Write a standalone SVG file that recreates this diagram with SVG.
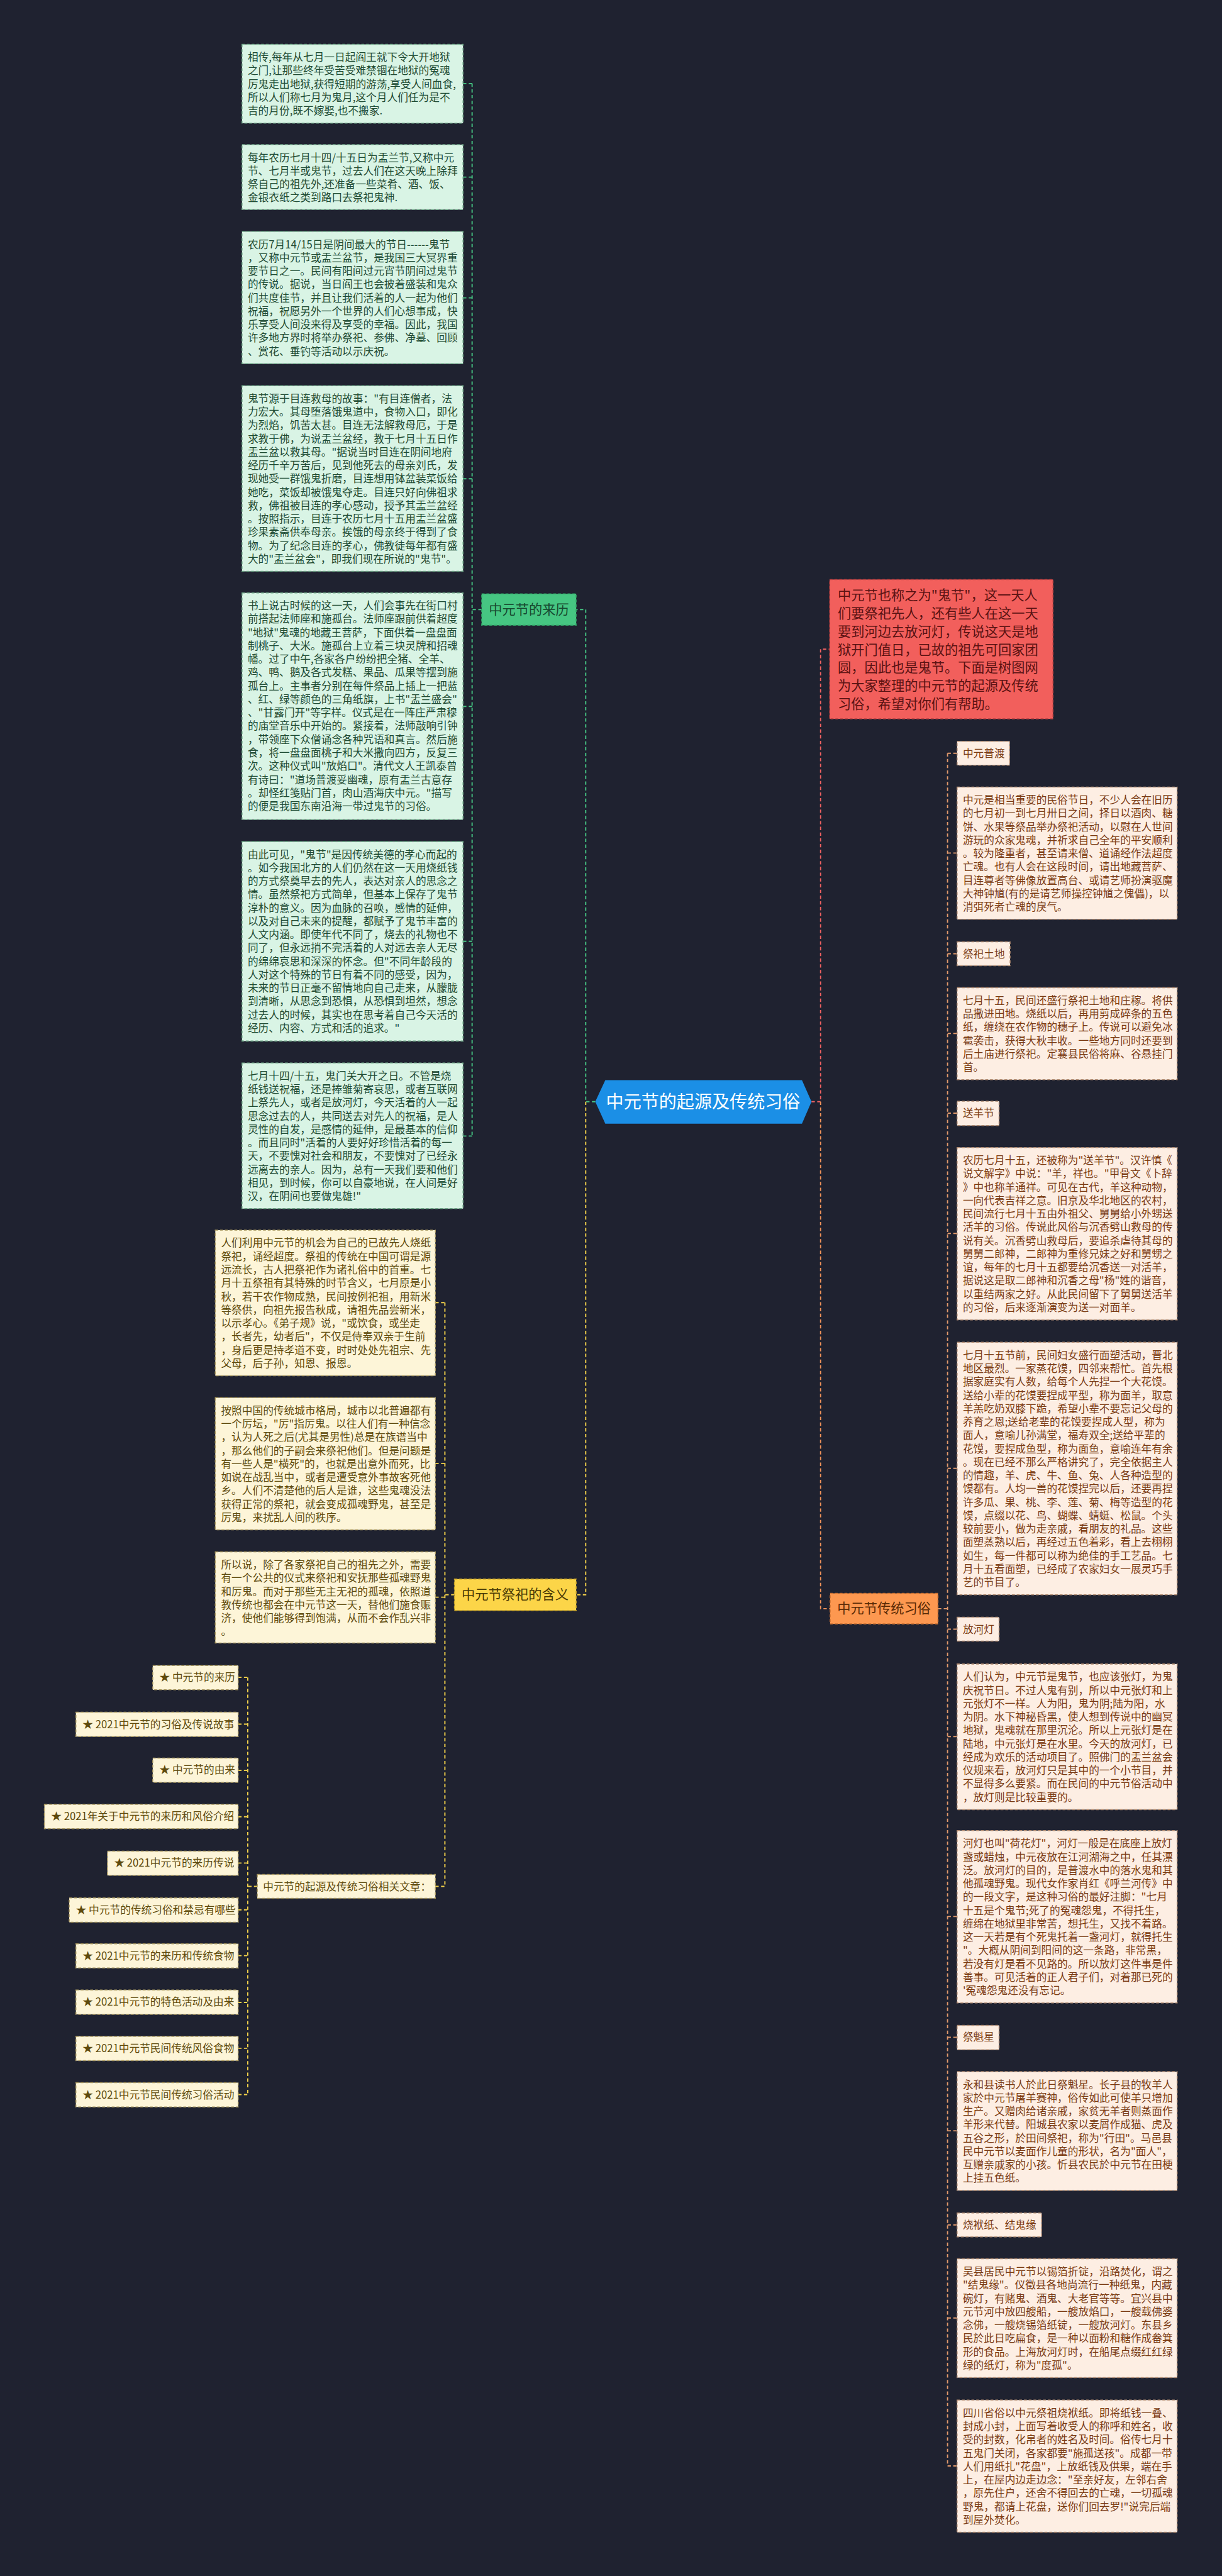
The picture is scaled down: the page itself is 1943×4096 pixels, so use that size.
<svg xmlns="http://www.w3.org/2000/svg" width="1943" height="4096" viewBox="0 0 1943 4096">
<style>
text{font-family:"Noto Sans CJK SC","Noto Sans",sans-serif}
.g{fill:#d9f4e5;stroke:#6fa888;stroke-width:2;stroke-dasharray:6 4}
.gt{font-size:22px;fill:#1d4a32}
.y{fill:#fdf5d8;stroke:#a8975e;stroke-width:2;stroke-dasharray:6 4}
.yt{font-size:22px;fill:#5e4a0c}
.o{fill:#fdeee3;stroke:#b08a70;stroke-width:2;stroke-dasharray:6 4}
.ot{font-size:22px;fill:#7a3a12}
.c{fill:none;stroke-width:2.5;stroke-dasharray:7 5}
.cg{stroke:#45c483}.cy{stroke:#f2d14a}.cr{stroke:#f06262}.co{stroke:#f0935a}.cp{stroke:#e29a6c}
</style>
<rect width="1943" height="4096" fill="#1f2230"/>
<g transform="scale(0.759)">
<g id="connectors">
<path class="c cg" d="M1247,2308H1227V1277H1207"/>
<path class="c cy" d="M1227,2308V3341H1207"/>
<path class="c cr" d="M1700,2308H1719V1360H1738"/>
<path class="c co" d="M1719,2308V3370H1739"/>
<path class="c cg" d="M1009,1277H989M989,175V2380M970,175H989M970,371H989M970,624H989M970,1003H989M970,1480H989M970,1972H989M970,2380H989"/>
<path class="c cy" d="M952,3341H932M932,2729V3952M912,2729H932M912,3066H932M912,3346H932M912,3952H932"/>
<path class="c cy" d="M539,3952H519M519,3514V4388M499,3514H519M499,3612H519M499,3709H519M499,3806H519M499,3903H519M499,4001H519M499,4097H519M499,4195H519M499,4291H519M499,4388H519"/>
<path class="c cp" d="M1965,3370H1985M1985,1578V5166M1985,1578H2005M1985,1787H2005M1985,1998H2005M1985,2165H2005M1985,2332H2005M1985,2584H2005M1985,3076H2005M1985,3413H2005M1985,3638H2005M1985,4015H2005M1985,4268H2005M1985,4464H2005M1985,4661H2005M1985,4856H2005M1985,5166H2005"/>
</g>

<g id="center">
<polygon points="1247,2308 1268,2263 1680,2263 1700,2308 1680,2354 1268,2354" fill="#1b8fe6"/>
<text x="1473" y="2321" font-size="37" fill="#ffffff" text-anchor="middle">中元节的起源及传统习俗</text>
</g>

<g id="node-laili">
<rect x="1009" y="1244" width="198" height="66" fill="#46c682" stroke="#2f9e63" stroke-width="2" stroke-dasharray="6 4"/>
<text x="1108" y="1287" font-size="28" fill="#174a30" text-anchor="middle">中元节的来历</text>
</g>

<g id="g1"><rect class="g" x="507" y="93" width="463" height="165"/>
<text class="gt" x="519" y="128"><tspan x="519">相传,每年从七月一日起阎王就下令大开地狱</tspan><tspan x="519" dy="28">之门,让那些终年受苦受难禁锢在地狱的冤魂</tspan><tspan x="519" dy="28">厉鬼走出地狱,获得短期的游荡,享受人间血食,</tspan><tspan x="519" dy="28">所以人们称七月为鬼月,这个月人们任为是不</tspan><tspan x="519" dy="28">吉的月份,既不嫁娶,也不搬家.</tspan></text></g>

<g id="g2"><rect class="g" x="507" y="303" width="463" height="136"/>
<text class="gt" x="519" y="338"><tspan x="519">每年农历七月十四/十五日为盂兰节,又称中元</tspan><tspan x="519" dy="28">节、七月半或鬼节，过去人们在这天晚上除拜</tspan><tspan x="519" dy="28">祭自己的祖先外,还准备一些菜肴、酒、饭、</tspan><tspan x="519" dy="28">金银衣纸之类到路口去祭祀鬼神.</tspan></text></g>

<g id="g3"><rect class="g" x="507" y="485" width="463" height="277"/>
<text class="gt" x="519" y="520"><tspan x="519">农历7月14/15日是阴间最大的节日------鬼节</tspan><tspan x="519" dy="28">，又称中元节或盂兰盆节，是我国三大冥界重</tspan><tspan x="519" dy="28">要节日之一。民间有阳间过元宵节阴间过鬼节</tspan><tspan x="519" dy="28">的传说。据说，当日阎王也会披着盛装和鬼众</tspan><tspan x="519" dy="28">们共度佳节，并且让我们活着的人一起为他们</tspan><tspan x="519" dy="28">祝福，祝愿另外一个世界的人们心想事成，快</tspan><tspan x="519" dy="28">乐享受人间没来得及享受的幸福。因此，我国</tspan><tspan x="519" dy="28">许多地方界时将举办祭祀、参佛、净墓、回顾</tspan><tspan x="519" dy="28">、赏花、垂钓等活动以示庆祝。</tspan></text></g>

<g id="g4"><rect class="g" x="507" y="808" width="463" height="389"/>
<text class="gt" x="519" y="843"><tspan x="519">鬼节源于目连救母的故事："有目连僧者，法</tspan><tspan x="519" dy="28">力宏大。其母堕落饿鬼道中，食物入口，即化</tspan><tspan x="519" dy="28">为烈焰，饥苦太甚。目连无法解救母厄，于是</tspan><tspan x="519" dy="28">求教于佛，为说盂兰盆经，教于七月十五日作</tspan><tspan x="519" dy="28">盂兰盆以救其母。"据说当时目连在阴间地府</tspan><tspan x="519" dy="28">经历千辛万苦后，见到他死去的母亲刘氏，发</tspan><tspan x="519" dy="28">现她受一群饿鬼折磨，目连想用钵盆装菜饭给</tspan><tspan x="519" dy="28">她吃，菜饭却被饿鬼夺走。目连只好向佛祖求</tspan><tspan x="519" dy="28">救，佛祖被目连的孝心感动，授予其盂兰盆经</tspan><tspan x="519" dy="28">。按照指示，目连于农历七月十五用盂兰盆盛</tspan><tspan x="519" dy="28">珍果素斋供奉母亲。挨饿的母亲终于得到了食</tspan><tspan x="519" dy="28">物。为了纪念目连的孝心，佛教徒每年都有盛</tspan><tspan x="519" dy="28">大的"盂兰盆会"，即我们现在所说的"鬼节"。</tspan></text></g>

<g id="g5"><rect class="g" x="507" y="1242" width="463" height="475"/>
<text class="gt" x="519" y="1277"><tspan x="519">书上说古时候的这一天，人们会事先在街口村</tspan><tspan x="519" dy="28">前搭起法师座和施孤台。法师座跟前供着超度</tspan><tspan x="519" dy="28">"地狱"鬼魂的地藏王菩萨，下面供着一盘盘面</tspan><tspan x="519" dy="28">制桃子、大米。施孤台上立着三块灵牌和招魂</tspan><tspan x="519" dy="28">幡。过了中午,各家各户纷纷把全猪、全羊、</tspan><tspan x="519" dy="28">鸡、鸭、鹅及各式发糕、果品、瓜果等摆到施</tspan><tspan x="519" dy="28">孤台上。主事者分别在每件祭品上插上一把蓝</tspan><tspan x="519" dy="28">、红、绿等颜色的三角纸旗，上书"盂兰盛会"</tspan><tspan x="519" dy="28">、"甘露门开"等字样。仪式是在一阵庄严肃穆</tspan><tspan x="519" dy="28">的庙堂音乐中开始的。紧接着，法师敲响引钟</tspan><tspan x="519" dy="28">，带领座下众僧诵念各种咒语和真言。然后施</tspan><tspan x="519" dy="28">食，将一盘盘面桃子和大米撒向四方，反复三</tspan><tspan x="519" dy="28">次。这种仪式叫"放焰口"。清代文人王凯泰曾</tspan><tspan x="519" dy="28">有诗曰："道场普渡妥幽魂，原有盂兰古意存</tspan><tspan x="519" dy="28">。却怪红笺贴门首，肉山酒海庆中元。"描写</tspan><tspan x="519" dy="28">的便是我国东南沿海一带过鬼节的习俗。</tspan></text></g>

<g id="g6"><rect class="g" x="507" y="1763" width="463" height="418"/>
<text class="gt" x="519" y="1798"><tspan x="519">由此可见，"鬼节"是因传统美德的孝心而起的</tspan><tspan x="519" dy="28">。如今我国北方的人们仍然在这一天用烧纸钱</tspan><tspan x="519" dy="28">的方式祭奠早去的先人，表达对亲人的思念之</tspan><tspan x="519" dy="28">情。虽然祭祀方式简单，但基本上保存了鬼节</tspan><tspan x="519" dy="28">淳朴的意义。因为血脉的召唤，感情的延伸，</tspan><tspan x="519" dy="28">以及对自己未来的提醒，都赋予了鬼节丰富的</tspan><tspan x="519" dy="28">人文内涵。即使年代不同了，烧去的礼物也不</tspan><tspan x="519" dy="28">同了，但永远捎不完活着的人对远去亲人无尽</tspan><tspan x="519" dy="28">的绵绵哀思和深深的怀念。但"不同年龄段的</tspan><tspan x="519" dy="28">人对这个特殊的节日有着不同的感受，因为，</tspan><tspan x="519" dy="28">未来的节日正毫不留情地向自己走来，从朦胧</tspan><tspan x="519" dy="28">到清晰，从思念到恐惧，从恐惧到坦然，想念</tspan><tspan x="519" dy="28">过去人的时候，其实也在思考着自己今天活的</tspan><tspan x="519" dy="28">经历、内容、方式和活的追求。"</tspan></text></g>

<g id="g7"><rect class="g" x="507" y="2227" width="463" height="305"/>
<text class="gt" x="519" y="2262"><tspan x="519">七月十四/十五，鬼门关大开之日。不管是烧</tspan><tspan x="519" dy="28">纸钱送祝福，还是捧雏菊寄哀思，或者互联网</tspan><tspan x="519" dy="28">上祭先人，或者是放河灯，今天活着的人一起</tspan><tspan x="519" dy="28">思念过去的人，共同送去对先人的祝福，是人</tspan><tspan x="519" dy="28">灵性的自发，是感情的延伸，是最基本的信仰</tspan><tspan x="519" dy="28">。而且同时"活着的人要好好珍惜活着的每一</tspan><tspan x="519" dy="28">天，不要愧对社会和朋友，不要愧对了已经永</tspan><tspan x="519" dy="28">远离去的亲人。因为，总有一天我们要和他们</tspan><tspan x="519" dy="28">相见，到时候，你可以自豪地说，在人间是好</tspan><tspan x="519" dy="28">汉，在阴间也要做鬼雄!"</tspan></text></g>

<g id="node-hanyi">
<rect x="952" y="3308" width="255" height="66" fill="#fcd548" stroke="#c9a52a" stroke-width="2" stroke-dasharray="6 4"/>
<text x="1079" y="3351" font-size="28" fill="#4a3a05" text-anchor="middle">中元节祭祀的含义</text>
</g>

<g id="yA"><rect class="y" x="451" y="2577" width="461" height="305"/>
<text class="yt" x="463" y="2612"><tspan x="463">人们利用中元节的机会为自己的已故先人烧纸</tspan><tspan x="463" dy="28">祭祀，诵经超度。祭祖的传统在中国可谓是源</tspan><tspan x="463" dy="28">远流长，古人把祭祀作为诸礼俗中的首重。七</tspan><tspan x="463" dy="28">月十五祭祖有其特殊的时节含义，七月原是小</tspan><tspan x="463" dy="28">秋，若干农作物成熟，民间按例祀祖，用新米</tspan><tspan x="463" dy="28">等祭供，向祖先报告秋成，请祖先品尝新米，</tspan><tspan x="463" dy="28">以示孝心。《弟子规》说，"或饮食，或坐走</tspan><tspan x="463" dy="28">，长者先，幼者后"，不仅是侍奉双亲于生前</tspan><tspan x="463" dy="28">，身后更是持孝道不变，时时处处先祖宗、先</tspan><tspan x="463" dy="28">父母，后子孙，知恩、报恩。</tspan></text></g>

<g id="yB"><rect class="y" x="451" y="2928" width="461" height="277"/>
<text class="yt" x="463" y="2963"><tspan x="463">按照中国的传统城市格局，城市以北普遍都有</tspan><tspan x="463" dy="28">一个厉坛，"厉"指厉鬼。以往人们有一种信念</tspan><tspan x="463" dy="28">，认为人死之后(尤其是男性)总是在族谱当中</tspan><tspan x="463" dy="28">，那么他们的子嗣会来祭祀他们。但是问题是</tspan><tspan x="463" dy="28">有一些人是"横死"的，也就是出意外而死，比</tspan><tspan x="463" dy="28">如说在战乱当中，或者是遭受意外事故客死他</tspan><tspan x="463" dy="28">乡。人们不清楚他的后人是谁，这些鬼魂没法</tspan><tspan x="463" dy="28">获得正常的祭祀，就会变成孤魂野鬼，甚至是</tspan><tspan x="463" dy="28">厉鬼，来扰乱人间的秩序。</tspan></text></g>

<g id="yC"><rect class="y" x="451" y="3251" width="461" height="191"/>
<text class="yt" x="463" y="3286"><tspan x="463">所以说，除了各家祭祀自己的祖先之外，需要</tspan><tspan x="463" dy="28">有一个公共的仪式来祭祀和安抚那些孤魂野鬼</tspan><tspan x="463" dy="28">和厉鬼。而对于那些无主无祀的孤魂，依照道</tspan><tspan x="463" dy="28">教传统也都会在中元节这一天，替他们施食赈</tspan><tspan x="463" dy="28">济，使他们能够得到饱满，从而不会作乱兴非</tspan><tspan x="463" dy="28">。</tspan></text></g>

<g id="node-articles"><rect class="y" x="539" y="3927" width="373" height="50"/>
<text class="yt" x="551" y="3960">中元节的起源及传统习俗相关文章：</text></g>

<g id="l1"><rect class="y" x="320" y="3489" width="179" height="51"/><text class="yt" x="334" y="3522">★ 中元节的来历</text></g>
<g id="l2"><rect class="y" x="159" y="3587" width="340" height="51"/><text class="yt" x="173" y="3620">★ 2021中元节的习俗及传说故事</text></g>
<g id="l3"><rect class="y" x="320" y="3683" width="179" height="51"/><text class="yt" x="334" y="3716">★ 中元节的由来</text></g>
<g id="l4"><rect class="y" x="93" y="3780" width="406" height="51"/><text class="yt" x="107" y="3813">★ 2021年关于中元节的来历和风俗介绍</text></g>
<g id="l5"><rect class="y" x="225" y="3878" width="274" height="51"/><text class="yt" x="239" y="3911">★ 2021中元节的来历传说</text></g>
<g id="l6"><rect class="y" x="145" y="3976" width="354" height="51"/><text class="yt" x="159" y="4009">★ 中元节的传统习俗和禁忌有哪些</text></g>
<g id="l7"><rect class="y" x="159" y="4072" width="340" height="51"/><text class="yt" x="173" y="4105">★ 2021中元节的来历和传统食物</text></g>
<g id="l8"><rect class="y" x="159" y="4169" width="340" height="51"/><text class="yt" x="173" y="4202">★ 2021中元节的特色活动及由来</text></g>
<g id="l9"><rect class="y" x="159" y="4266" width="340" height="51"/><text class="yt" x="173" y="4299">★ 2021中元节民间传统风俗食物</text></g>
<g id="l10"><rect class="y" x="159" y="4363" width="340" height="51"/><text class="yt" x="173" y="4396">★ 2021中元节民间传统习俗活动</text></g>

<g id="node-intro">
<rect x="1738" y="1214" width="468" height="292" fill="#f25f5c" stroke="#b84040" stroke-width="2" stroke-dasharray="6 4"/>
<text font-size="28" fill="#5a1212" x="1755" y="1257"><tspan x="1755">中元节也称之为"鬼节"，这一天人</tspan><tspan x="1755" dy="38">们要祭祀先人，还有些人在这一天</tspan><tspan x="1755" dy="38">要到河边去放河灯，传说这天是地</tspan><tspan x="1755" dy="38">狱开门值日，已故的祖先可回家团</tspan><tspan x="1755" dy="38">圆，因此也是鬼节。下面是树图网</tspan><tspan x="1755" dy="38">为大家整理的中元节的起源及传统</tspan><tspan x="1755" dy="38">习俗，希望对你们有帮助。</tspan></text>
</g>

<g id="node-customs">
<rect x="1739" y="3338" width="226" height="64" fill="#fd9850" stroke="#c86f30" stroke-width="2" stroke-dasharray="6 4"/>
<text x="1852" y="3380" font-size="28" fill="#5a2a05" text-anchor="middle">中元节传统习俗</text>
</g>

<g id="r1"><rect class="o" x="2005" y="1553" width="110" height="50"/><text class="ot" x="2017" y="1586">中元普渡</text></g>
<g id="r2"><rect class="o" x="2005" y="1649" width="461" height="277"/>
<text class="ot" x="2017" y="1684"><tspan x="2017">中元是相当重要的民俗节日，不少人会在旧历</tspan><tspan x="2017" dy="28">的七月初一到七月卅日之间，择日以酒肉、糖</tspan><tspan x="2017" dy="28">饼、水果等祭品举办祭祀活动，以慰在人世间</tspan><tspan x="2017" dy="28">游玩的众家鬼魂，并祈求自己全年的平安顺利</tspan><tspan x="2017" dy="28">。较为隆重者，甚至请来僧、道诵经作法超度</tspan><tspan x="2017" dy="28">亡魂。也有人会在这段时间，请出地藏菩萨、</tspan><tspan x="2017" dy="28">目连尊者等佛像放置高台、或请艺师扮演驱魔</tspan><tspan x="2017" dy="28">大神钟馗(有的是请艺师操控钟馗之傀儡)，以</tspan><tspan x="2017" dy="28">消弭死者亡魂的戾气。</tspan></text></g>

<g id="r3"><rect class="o" x="2005" y="1973" width="111" height="50"/><text class="ot" x="2017" y="2006">祭祀土地</text></g>
<g id="r4"><rect class="o" x="2005" y="2069" width="461" height="193"/>
<text class="ot" x="2017" y="2104"><tspan x="2017">七月十五，民间还盛行祭祀土地和庄稼。将供</tspan><tspan x="2017" dy="28">品撒进田地。烧纸以后，再用剪成碎条的五色</tspan><tspan x="2017" dy="28">纸，缠绕在农作物的穗子上。传说可以避免冰</tspan><tspan x="2017" dy="28">雹袭击，获得大秋丰收。一些地方同时还要到</tspan><tspan x="2017" dy="28">后土庙进行祭祀。定襄县民俗将麻、谷悬挂门</tspan><tspan x="2017" dy="28">首。</tspan></text></g>

<g id="r5"><rect class="o" x="2005" y="2307" width="88" height="51"/><text class="ot" x="2017" y="2340">送羊节</text></g>
<g id="r6"><rect class="o" x="2005" y="2404" width="461" height="361"/>
<text class="ot" x="2017" y="2439"><tspan x="2017">农历七月十五，还被称为"送羊节"。汉许慎《</tspan><tspan x="2017" dy="28">说文解字》中说："羊，祥也。"甲骨文《卜辞</tspan><tspan x="2017" dy="28">》中也称羊通祥。可见在古代，羊这种动物，</tspan><tspan x="2017" dy="28">一向代表吉祥之意。旧京及华北地区的农村，</tspan><tspan x="2017" dy="28">民间流行七月十五由外祖父、舅舅给小外甥送</tspan><tspan x="2017" dy="28">活羊的习俗。传说此风俗与沉香劈山救母的传</tspan><tspan x="2017" dy="28">说有关。沉香劈山救母后，要追杀虐待其母的</tspan><tspan x="2017" dy="28">舅舅二郎神，二郎神为重修兄妹之好和舅甥之</tspan><tspan x="2017" dy="28">谊，每年的七月十五都要给沉香送一对活羊，</tspan><tspan x="2017" dy="28">据说这是取二郎神和沉香之母"杨"姓的谐音，</tspan><tspan x="2017" dy="28">以重结两家之好。从此民间留下了舅舅送活羊</tspan><tspan x="2017" dy="28">的习俗，后来逐渐演变为送一对面羊。</tspan></text></g>

<g id="r7"><rect class="o" x="2005" y="2812" width="461" height="529"/>
<text class="ot" x="2017" y="2847"><tspan x="2017">七月十五节前，民间妇女盛行面塑活动，晋北</tspan><tspan x="2017" dy="28">地区最烈。一家蒸花馍，四邻来帮忙。首先根</tspan><tspan x="2017" dy="28">据家庭实有人数，给每个人先捏一个大花馍。</tspan><tspan x="2017" dy="28">送给小辈的花馍要捏成平型，称为面羊，取意</tspan><tspan x="2017" dy="28">羊羔吃奶双膝下跪，希望小辈不要忘记父母的</tspan><tspan x="2017" dy="28">养育之恩;送给老辈的花馍要捏成人型，称为</tspan><tspan x="2017" dy="28">面人，意喻儿孙满堂，福寿双全;送给平辈的</tspan><tspan x="2017" dy="28">花馍，要捏成鱼型，称为面鱼，意喻连年有余</tspan><tspan x="2017" dy="28">。现在已经不那么严格讲究了，完全依据主人</tspan><tspan x="2017" dy="28">的情趣，羊、虎、牛、鱼、兔、人各种造型的</tspan><tspan x="2017" dy="28">馍都有。人均一兽的花馍捏完以后，还要再捏</tspan><tspan x="2017" dy="28">许多瓜、果、桃、李、莲、菊、梅等造型的花</tspan><tspan x="2017" dy="28">馍，点缀以花、鸟、蝴蝶、蜻蜓、松鼠。个头</tspan><tspan x="2017" dy="28">较前要小，做为走亲戚，看朋友的礼品。这些</tspan><tspan x="2017" dy="28">面塑蒸熟以后，再经过五色着彩，看上去栩栩</tspan><tspan x="2017" dy="28">如生，每一件都可以称为绝佳的手工艺品。七</tspan><tspan x="2017" dy="28">月十五看面塑，已经成了农家妇女一展灵巧手</tspan><tspan x="2017" dy="28">艺的节目了。</tspan></text></g>

<g id="r8"><rect class="o" x="2005" y="3388" width="88" height="50"/><text class="ot" x="2017" y="3421">放河灯</text></g>
<g id="r9"><rect class="o" x="2005" y="3486" width="461" height="305"/>
<text class="ot" x="2017" y="3521"><tspan x="2017">人们认为，中元节是鬼节，也应该张灯，为鬼</tspan><tspan x="2017" dy="28">庆祝节日。不过人鬼有别，所以中元张灯和上</tspan><tspan x="2017" dy="28">元张灯不一样。人为阳，鬼为阴;陆为阳，水</tspan><tspan x="2017" dy="28">为阴。水下神秘昏黑，使人想到传说中的幽冥</tspan><tspan x="2017" dy="28">地狱，鬼魂就在那里沉沦。所以上元张灯是在</tspan><tspan x="2017" dy="28">陆地，中元张灯是在水里。今天的放河灯，已</tspan><tspan x="2017" dy="28">经成为欢乐的活动项目了。照佛门的盂兰盆会</tspan><tspan x="2017" dy="28">仪规来看，放河灯只是其中的一个小节目，并</tspan><tspan x="2017" dy="28">不显得多么要紧。而在民间的中元节俗活动中</tspan><tspan x="2017" dy="28">，放灯则是比较重要的。</tspan></text></g>

<g id="r10"><rect class="o" x="2005" y="3835" width="461" height="361"/>
<text class="ot" x="2017" y="3870"><tspan x="2017">河灯也叫"荷花灯"，河灯一般是在底座上放灯</tspan><tspan x="2017" dy="28">盏或蜡烛，中元夜放在江河湖海之中，任其漂</tspan><tspan x="2017" dy="28">泛。放河灯的目的，是普渡水中的落水鬼和其</tspan><tspan x="2017" dy="28">他孤魂野鬼。现代女作家肖红《呼兰河传》中</tspan><tspan x="2017" dy="28">的一段文字，是这种习俗的最好注脚："七月</tspan><tspan x="2017" dy="28">十五是个鬼节;死了的冤魂怨鬼，不得托生，</tspan><tspan x="2017" dy="28">缠绵在地狱里非常苦，想托生，又找不着路。</tspan><tspan x="2017" dy="28">这一天若是有个死鬼托着一盏河灯，就得托生</tspan><tspan x="2017" dy="28">"。大概从阴间到阳间的这一条路，非常黑，</tspan><tspan x="2017" dy="28">若没有灯是看不见路的。所以放灯这件事是件</tspan><tspan x="2017" dy="28">善事。可见活着的正人君子们，对着那已死的</tspan><tspan x="2017" dy="28">'冤魂怨鬼还没有忘记。</tspan></text></g>

<g id="r11"><rect class="o" x="2005" y="4243" width="88" height="51"/><text class="ot" x="2017" y="4276">祭魁星</text></g>
<g id="r12"><rect class="o" x="2005" y="4340" width="461" height="249"/>
<text class="ot" x="2017" y="4375"><tspan x="2017">永和县读书人於此日祭魁星。长子县的牧羊人</tspan><tspan x="2017" dy="28">家於中元节屠羊赛神，俗传如此可使羊只增加</tspan><tspan x="2017" dy="28">生产。又赠肉给诸亲戚，家贫无羊者则蒸面作</tspan><tspan x="2017" dy="28">羊形来代替。阳城县农家以麦屑作成猫、虎及</tspan><tspan x="2017" dy="28">五谷之形，於田间祭祀，称为"行田"。马邑县</tspan><tspan x="2017" dy="28">民中元节以麦面作儿童的形状，名为"面人"，</tspan><tspan x="2017" dy="28">互赠亲戚家的小孩。忻县农民於中元节在田梗</tspan><tspan x="2017" dy="28">上挂五色纸。</tspan></text></g>

<g id="r13"><rect class="o" x="2005" y="4636" width="177" height="50"/><text class="ot" x="2017" y="4669">烧袱纸、结鬼缘</text></g>
<g id="r14"><rect class="o" x="2005" y="4732" width="461" height="249"/>
<text class="ot" x="2017" y="4767"><tspan x="2017">吴县居民中元节以锡箔折锭，沿路焚化，谓之</tspan><tspan x="2017" dy="28">"结鬼缘"。仪徵县各地尚流行一种纸鬼，内藏</tspan><tspan x="2017" dy="28">碗灯，有赌鬼、酒鬼、大老官等等。宜兴县中</tspan><tspan x="2017" dy="28">元节河中放四艘船，一艘放焰口，一艘载佛婆</tspan><tspan x="2017" dy="28">念佛，一艘烧锡箔纸锭，一艘放河灯。东县乡</tspan><tspan x="2017" dy="28">民於此日吃扁食，是一种以面粉和糖作成畚箕</tspan><tspan x="2017" dy="28">形的食品。上海放河灯时，在船尾点缀红红绿</tspan><tspan x="2017" dy="28">绿的纸灯，称为"度孤"。</tspan></text></g>

<g id="r15"><rect class="o" x="2005" y="5028" width="461" height="277"/>
<text class="ot" x="2017" y="5063"><tspan x="2017">四川省俗以中元祭祖烧袱纸。即将纸钱一叠、</tspan><tspan x="2017" dy="28">封成小封，上面写着收受人的称呼和姓名，收</tspan><tspan x="2017" dy="28">受的封数，化帛者的姓名及时间。俗传七月十</tspan><tspan x="2017" dy="28">五鬼门关闭，各家都要"施孤送孩"。成都一带</tspan><tspan x="2017" dy="28">人们用纸扎"花盘"，上放纸钱及供果，端在手</tspan><tspan x="2017" dy="28">上，在屋内边走边念："至亲好友，左邻右舍</tspan><tspan x="2017" dy="28">，原先住户，还舍不得回去的亡魂，一切孤魂</tspan><tspan x="2017" dy="28">野鬼，都请上花盘，送你们回去罗!"说完后端</tspan><tspan x="2017" dy="28">到屋外焚化。</tspan></text></g>
</g>
</svg>
